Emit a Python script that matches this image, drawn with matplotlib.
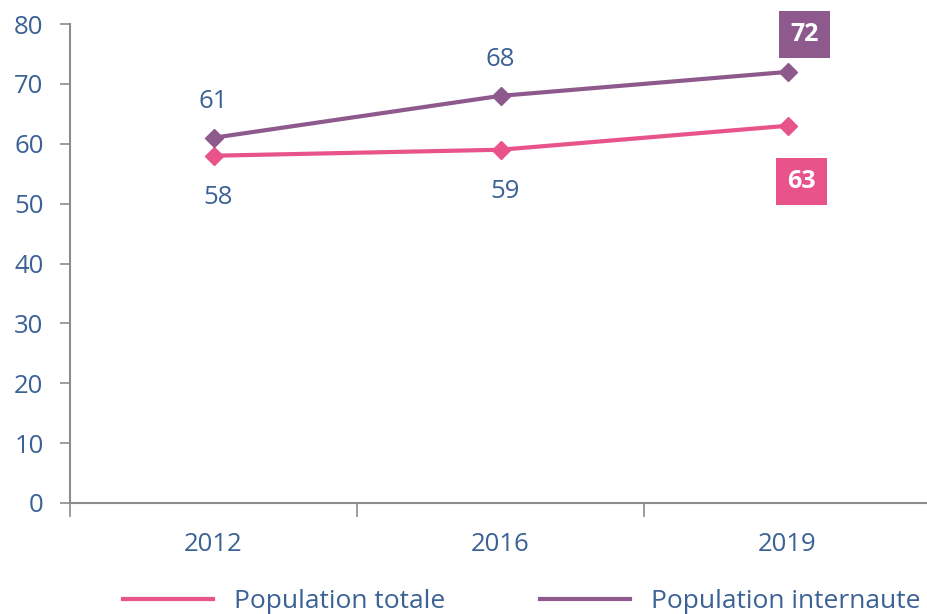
import numpy as np
import matplotlib.pyplot as plt
from matplotlib.lines import Line2D

# données
annees = ['2012', '2016', '2019']
pop_totale = [58, 59, 63]
pop_internaute = [61, 68, 72]

rose = '#E8538A'
violet = '#8E5A8E'
bleu = '#3B6195'
gris = '#8C8C8C'

plt.rcParams['font.family'] = ['Open Sans', 'DejaVu Sans']

fig = plt.figure(figsize=(9.28, 6.14), dpi=100)
ax = fig.add_axes([70 / 928, 111 / 614, 861 / 928, 479 / 614])

x = np.arange(len(annees))
ax.plot(x, pop_totale, color=rose, lw=3, marker='D', ms=9, zorder=3)
ax.plot(x, pop_internaute, color=violet, lw=3, marker='D', ms=9, zorder=3)

ax.set_xlim(-0.5, 2.5)
ax.set_ylim(0, 80)
ax.set_yticks(range(0, 81, 10))
ax.set_xticks([-0.5, 0.5, 1.5], minor=False)
ax.set_xticklabels([])
ax.set_xticks(x, minor=True)
ax.set_xticklabels(annees, minor=True)
ax.tick_params(axis='x', which='major', length=10, width=1.2, color=gris, direction='out')
ax.tick_params(axis='x', which='minor', length=0, pad=21, labelsize=18.5, labelcolor=bleu)
ax.tick_params(axis='y', length=7, width=1.2, color=gris, labelsize=18.5, labelcolor=bleu, pad=12)

for s in ['top', 'right']:
    ax.spines[s].set_visible(False)
for s in ['left', 'bottom']:
    ax.spines[s].set_color(gris)
    ax.spines[s].set_linewidth(1.5)

# étiquettes des valeurs
for i in range(2):
    ax.annotate(str(pop_internaute[i]), (x[i], pop_internaute[i]), xytext=(0, 17),
                textcoords='offset points', ha='center', va='bottom', fontsize=18.5, color=bleu)
    ax.annotate(str(pop_totale[i]), (x[i], pop_totale[i]), xytext=(3, -21),
                textcoords='offset points', ha='center', va='top', fontsize=18.5, color=bleu)

ax.annotate(str(pop_internaute[2]), (x[2], pop_internaute[2]), xytext=(12, 27),
            textcoords='offset points', ha='center', va='center', fontsize=18,
            fontweight='bold', color='white',
            bbox=dict(boxstyle='square,pad=0.45', fc=violet, ec='none'))
ax.annotate(str(pop_totale[2]), (x[2], pop_totale[2]), xytext=(10, -40),
            textcoords='offset points', ha='center', va='center', fontsize=18,
            fontweight='bold', color='white',
            bbox=dict(boxstyle='square,pad=0.45', fc=rose, ec='none'))

# légende
handles = [Line2D([], [], color=rose, lw=3), Line2D([], [], color=violet, lw=3)]
fig.legend(handles, ['Population totale', 'Population internaute'], ncol=2,
           loc='center', bbox_to_anchor=(0.562, 0.02), frameon=False,
           fontsize=19, labelcolor=bleu, handlelength=3.4, handletextpad=0.8,
           columnspacing=3.6)

plt.savefig('out.png', facecolor='white')
plt.close()
